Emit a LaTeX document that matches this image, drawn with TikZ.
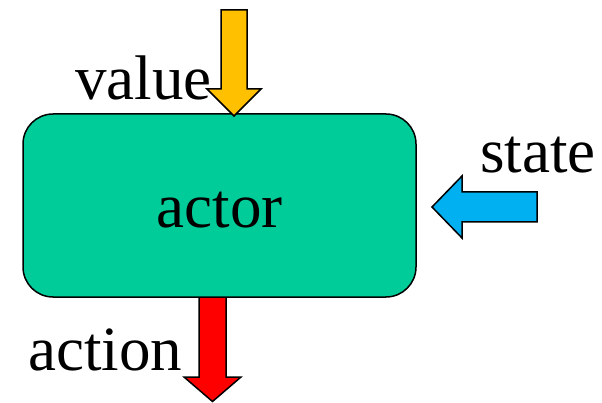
\documentclass[tikz,border=0pt]{standalone}
\usepackage{fontspec}
\setmainfont{Liberation Serif}
\definecolor{actorgreen}{RGB}{0,204,153}
\definecolor{valueyellow}{RGB}{255,192,0}
\definecolor{stateblue}{RGB}{0,176,240}
\tikzset{
    lbl/.style={inner sep=0pt, anchor=base west, font=\fontsize{63}{70}\selectfont},
    blockarrow/.style={draw=black, line width=1.5pt, line join=miter}
}
\begin{document}
\begin{tikzpicture}[x=1pt,y=-1pt]
    \useasboundingbox (0,0) rectangle (602,403);
    % action leaves the actor at the bottom
    \draw[blockarrow, fill=red] (199,297) -- ++(27,0) -- ++(0,80) -- ++(15,0) -- ++(-28.5,24.5) -- ++(-28.5,-24.5) -- ++(15,0) -- cycle;
    \node[draw=black, line width=1.5pt, fill=actorgreen, rounded corners=30pt,
          minimum width=393pt, minimum height=183pt, text height=45pt, text depth=0pt,
          font=\fontsize{63}{70}\selectfont] (actor) at (219.5,205.5) {actor};
    % value comes in from the top
    \draw[blockarrow, fill=valueyellow] (221,10) -- ++(26,0) -- ++(0,79) -- ++(14,0) -- ++(-27,27) -- ++(-27,-27) -- ++(14,0) -- cycle;
    % state comes in from the right
    \draw[blockarrow, fill=stateblue] (537,192) -- ++(-75,0) -- ++(0,-16) -- ++(-30,31) -- ++(30,31) -- ++(0,-16) -- ++(75,0) -- cycle;
    \node[lbl] (value) at (75,100) {value};
    \node[lbl] (state) at (480,173) {state};
    \node[lbl] (action) at (28,370) {action};
\end{tikzpicture}
\end{document}
